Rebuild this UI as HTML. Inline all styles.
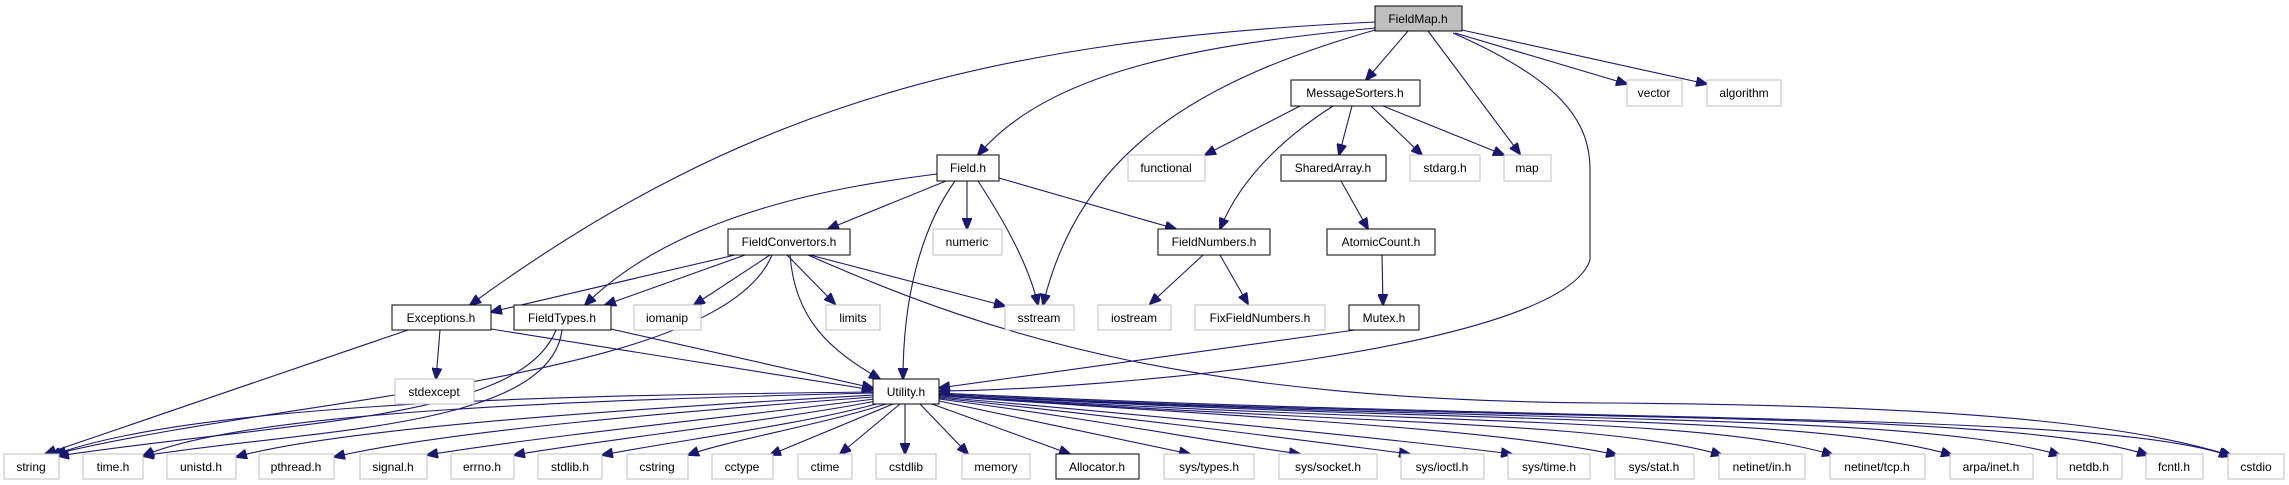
<!DOCTYPE html>
<html><head><meta charset="utf-8"><style>
html,body{margin:0;padding:0;background:#fff;}
svg{display:block;}
text{font-family:"Liberation Sans",sans-serif;font-size:12px;text-anchor:middle;fill:#000;}
.g{fill:#fff;stroke:#bfbfbf;stroke-width:1;}
.b{fill:#fff;stroke:#000;stroke-width:1;}
path{fill:none;stroke:#191970;stroke-width:1.1;}
</style></head><body>
<svg width="2289" height="485" viewBox="0 0 2289 485">
<defs><marker id="a" markerUnits="userSpaceOnUse" markerWidth="12" markerHeight="10" refX="11" refY="5" orient="auto"><path d="M0,0 L12,5 L0,10 z" style="fill:#191970;stroke:#191970;stroke-width:1"/></marker></defs>
<g marker-end="url(#a)">
<!-- FieldMap -->
<path d="M1408,31 L1366,80"/>
<path d="M1428,31 L1520,154"/>
<path d="M1455,33 L1627,84"/>
<path d="M1462,30 L1707,84"/>
<path d="M1453,33 C1560,80 1590,120 1590,170 L1590,260 C1560,350 1100,390 939,391"/>
<path d="M1375,28 C1200,45 1050,70 978,155"/>
<path d="M1375,22 C1000,40 750,100 470,305"/>
<path d="M1375,30 C1200,80 1080,150 1043,305"/>
<!-- MessageSorters -->
<path d="M1300,106 L1205,155"/>
<path d="M1333,106 C1280,140 1240,180 1220,229"/>
<path d="M1352,106 L1339,155"/>
<path d="M1371,106 L1422,155"/>
<path d="M1383,106 L1504,155"/>
<path d="M1341,181 L1368,229"/>
<path d="M1382,255 L1383,305"/>
<path d="M1355,330 L939,388"/>
<!-- Field.h -->
<path d="M946,181 L828,229"/>
<path d="M967,181 L967,229"/>
<path d="M999,178 L1176,229"/>
<path d="M937,174 C850,185 680,210 585,305"/>
<path d="M955,181 C920,230 903,300 903,379"/>
<path d="M978,181 C1010,230 1030,270 1038,305"/>
<!-- FieldConvertors -->
<path d="M735,255 L491,312"/>
<path d="M745,255 L605,305"/>
<path d="M770,255 L694,305"/>
<path d="M787,255 L835,304"/>
<path d="M810,255 L1005,306"/>
<path d="M790,255 C795,320 830,350 880,379"/>
<path d="M772,255 C720,380 300,395 55,454"/>
<path d="M808,255 C1000,340 1200,400 1600,403 C2000,405 2150,430 2232,456"/>
<!-- FieldNumbers -->
<path d="M1203,255 L1150,304"/>
<path d="M1220,255 L1248,304"/>
<!-- Exceptions, FieldTypes -->
<path d="M440,330 L436,379"/>
<path d="M408,330 L45,454"/>
<path d="M491,329 L873,390"/>
<path d="M611,329 L873,388"/>
<path d="M556,330 C520,420 300,420 58,456"/>
<path d="M562,330 C550,430 300,430 143,456"/>
<!-- Utility -->
<path d="M873,392 C600,395 200,400 50,456"/>
<path d="M873,393 C600,400 250,410 143,456"/>
<path d="M873,395 C700,405 350,425 236,457"/>
<path d="M873,397 C700,410 450,430 334,457"/>
<path d="M874,399 C750,415 550,435 427,455"/>
<path d="M876,401 C780,420 600,440 514,455"/>
<path d="M880,403 C800,425 680,440 602,455"/>
<path d="M886,404 C820,425 730,440 688,455"/>
<path d="M893,404 L770,455"/>
<path d="M900,404 L840,454"/>
<path d="M905,404 L905,454"/>
<path d="M920,404 L968,454"/>
<path d="M932,404 L1070,454"/>
<path d="M939,401 L1190,454"/>
<path d="M939,399 C1100,420 1200,440 1300,454"/>
<path d="M939,398 C1150,420 1300,440 1410,454"/>
<path d="M939,397 C1200,420 1400,440 1512,454"/>
<path d="M939,396 C1300,420 1500,430 1617,455"/>
<path d="M939,395 C1350,425 1600,420 1722,455"/>
<path d="M939,395 C1400,425 1700,415 1833,455"/>
<path d="M939,394 C1450,425 1800,412 1952,455"/>
<path d="M939,394 C1500,425 1900,410 2060,455"/>
<path d="M939,394 C1550,425 2000,408 2148,455"/>
<path d="M939,393 C1600,425 2100,410 2230,456"/>
</g>
<!-- nodes -->
<rect x="1375" y="6" width="87" height="25" style="fill:#bfbfbf;stroke:#000"/><text x="1418" y="23">FieldMap.h</text>
<rect class="b" x="1291" y="80" width="129" height="26"/><text x="1355" y="97">MessageSorters.h</text>
<rect class="g" x="1627" y="80" width="55" height="26"/><text x="1654" y="97">vector</text>
<rect class="g" x="1707" y="80" width="74" height="26"/><text x="1744" y="97">algorithm</text>
<rect class="b" x="937" y="155" width="62" height="26"/><text x="968" y="172">Field.h</text>
<rect class="g" x="1128" y="155" width="77" height="26"/><text x="1166" y="172">functional</text>
<rect class="b" x="1281" y="155" width="105" height="26"/><text x="1333" y="172">SharedArray.h</text>
<rect class="g" x="1410" y="155" width="70" height="26"/><text x="1445" y="172">stdarg.h</text>
<rect class="g" x="1504" y="155" width="47" height="26"/><text x="1527" y="172">map</text>
<rect class="b" x="728" y="229" width="122" height="26"/><text x="789" y="246">FieldConvertors.h</text>
<rect class="g" x="933" y="229" width="69" height="26"/><text x="967" y="246">numeric</text>
<rect class="b" x="1158" y="229" width="112" height="26"/><text x="1214" y="246">FieldNumbers.h</text>
<rect class="b" x="1327" y="229" width="108" height="26"/><text x="1381" y="246">AtomicCount.h</text>
<rect class="b" x="392" y="305" width="99" height="25"/><text x="441" y="322">Exceptions.h</text>
<rect class="b" x="514" y="305" width="97" height="25"/><text x="562" y="322">FieldTypes.h</text>
<rect class="g" x="634" y="305" width="67" height="25"/><text x="667" y="322">iomanip</text>
<rect class="g" x="826" y="305" width="54" height="25"/><text x="853" y="322">limits</text>
<rect class="g" x="1005" y="305" width="69" height="25"/><text x="1039" y="322">sstream</text>
<rect class="g" x="1098" y="305" width="73" height="25"/><text x="1134" y="322">iostream</text>
<rect class="g" x="1195" y="305" width="130" height="25"/><text x="1260" y="322">FixFieldNumbers.h</text>
<rect class="b" x="1349" y="305" width="70" height="25"/><text x="1384" y="322">Mutex.h</text>
<rect class="g" x="395" y="379" width="79" height="25"/><text x="434" y="396">stdexcept</text>
<rect class="b" x="873" y="379" width="66" height="25"/><text x="906" y="396">Utility.h</text>
<g>
<rect class="g" x="4" y="454" width="55" height="25"/><text x="31" y="471">string</text>
<rect class="g" x="83" y="454" width="60" height="25"/><text x="113" y="471">time.h</text>
<rect class="g" x="167" y="454" width="69" height="25"/><text x="201" y="471">unistd.h</text>
<rect class="g" x="259" y="454" width="75" height="25"/><text x="296" y="471">pthread.h</text>
<rect class="g" x="360" y="454" width="67" height="25"/><text x="393" y="471">signal.h</text>
<rect class="g" x="451" y="454" width="63" height="25"/><text x="482" y="471">errno.h</text>
<rect class="g" x="538" y="454" width="64" height="25"/><text x="570" y="471">stdlib.h</text>
<rect class="g" x="627" y="454" width="61" height="25"/><text x="657" y="471">cstring</text>
<rect class="g" x="712" y="454" width="61" height="25"/><text x="742" y="471">cctype</text>
<rect class="g" x="798" y="454" width="54" height="25"/><text x="825" y="471">ctime</text>
<rect class="g" x="876" y="454" width="60" height="25"/><text x="906" y="471">cstdlib</text>
<rect class="g" x="962" y="454" width="68" height="25"/><text x="996" y="471">memory</text>
<rect class="b" x="1056" y="454" width="83" height="25"/><text x="1097" y="471">Allocator.h</text>
<rect class="g" x="1164" y="454" width="90" height="25"/><text x="1209" y="471">sys/types.h</text>
<rect class="g" x="1279" y="454" width="98" height="25"/><text x="1328" y="471">sys/socket.h</text>
<rect class="g" x="1401" y="454" width="83" height="25"/><text x="1442" y="471">sys/ioctl.h</text>
<rect class="g" x="1508" y="454" width="82" height="25"/><text x="1549" y="471">sys/time.h</text>
<rect class="g" x="1615" y="454" width="79" height="25"/><text x="1654" y="471">sys/stat.h</text>
<rect class="g" x="1719" y="454" width="86" height="25"/><text x="1762" y="471">netinet/in.h</text>
<rect class="g" x="1830" y="454" width="95" height="25"/><text x="1877" y="471">netinet/tcp.h</text>
<rect class="g" x="1950" y="454" width="83" height="25"/><text x="1991" y="471">arpa/inet.h</text>
<rect class="g" x="2057" y="454" width="65" height="25"/><text x="2089" y="471">netdb.h</text>
<rect class="g" x="2146" y="454" width="57" height="25"/><text x="2174" y="471">fcntl.h</text>
<rect class="g" x="2228" y="454" width="56" height="25"/><text x="2256" y="471">cstdio</text>
</g>
</svg>
</body></html>
